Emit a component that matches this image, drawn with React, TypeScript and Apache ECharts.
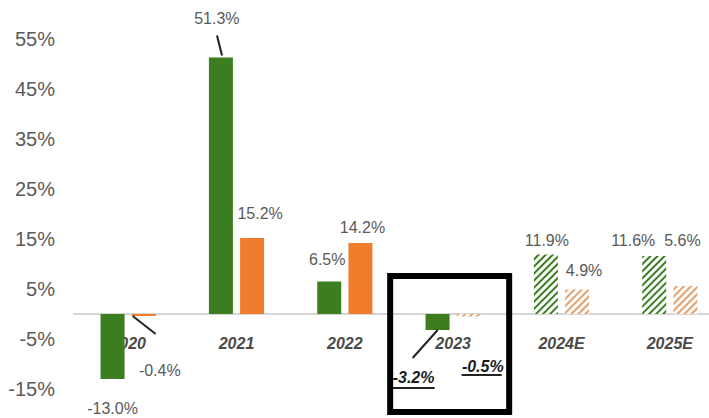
import React, { useEffect, useRef } from "react";
import * as echarts from "echarts";

// ---- data ----
const categories = ["2020", "2021", "2022", "2023", "2024E", "2025E"];
const greenValues = [-13.0, 51.3, 6.5, -3.2, 11.9, 11.6];
const orangeValues = [-0.4, 15.2, 14.2, -0.5, 4.9, 5.6];
const greenHatched = [false, false, false, false, true, true];
const orangeHatched = [false, false, false, true, true, true];
const highlightIndex = 3; // 2023 (boxed, underlined labels)
const Y_MIN = -15;
const Y_MAX = 55;

// ---- styling (label offsets in px) ----
const greenLabelOffsets = [[0, 16], [-4, -26.5], [-2, -9.5], [-24, 34], [1, -1.5], [-21, -3]];
const orangeLabelOffsets = [[16, 41], [8, -12], [2, -3], [14, 36.5], [7, -6.5], [-3, -33]];

const GREEN = "#3b7d1f";
const ORANGE = "#f07d2c";
const GREEN_HATCH = "#3b7d1f";
const ORANGE_HATCH = "#e3a06e";
const FONT = "'Liberation Sans', Arial, sans-serif";
const BAR_W = 24;
const HALF = 15.5;
const GRID_TOP = 39;
const GRID_BOTTOM = 29;
const CHART_H = 418;

function buildData(values: number[], hatched: boolean[], offsets: number[][], color: string, hatchColor: string) {
  return values.map((v, i) => {
    const hl = i === highlightIndex;
    return {
      value: v,
      itemStyle: hatched[i]
        ? {
            color: "#ffffff",
            decal: {
              symbol: "rect",
              symbolSize: 1,
              color: hatchColor,
              dashArrayX: [1, 0],
              dashArrayY: [2, 3],
              rotation: -Math.PI / 4,
            },
          }
        : { color },
      label: {
        show: true,
        position: v >= 0 ? "top" : "bottom",
        distance: 5,
        offset: offsets[i],
        formatter: (p: any) => Number(p.value).toFixed(1) + "%",
        fontFamily: FONT,
        fontSize: 16,
        color: hl ? "#1a1a1a" : "#595959",
        fontWeight: hl ? "bold" : "normal",
        fontStyle: hl ? "italic" : "normal",
      },
    };
  });
}

export default function App() {
  const ref = useRef<HTMLDivElement>(null);
  useEffect(() => {
    if (!ref.current) return;
    const chart = echarts.init(ref.current, null, { renderer: "svg" });
    const plotH = CHART_H - GRID_TOP - GRID_BOTTOM;
    const zeroOffset = -(plotH * (0 - Y_MIN)) / (Y_MAX - Y_MIN);
    chart.setOption({
      animation: false,
      backgroundColor: "#ffffff",
      grid: { left: 74, right: -15, top: GRID_TOP, bottom: GRID_BOTTOM, containLabel: false, outerBoundsMode: "none" },
      xAxis: {
        type: "category",
        data: categories,
        position: "bottom",
        offset: zeroOffset,
        axisLine: { show: true, onZero: false, lineStyle: { color: "#d6d6d6", width: 2 } },
        axisTick: { show: false },
        axisLabel: {
          margin: 21,
          fontFamily: FONT,
          fontSize: 16,
          fontStyle: "italic",
          fontWeight: "bold",
          color: "#4a4a4a",
        },
        splitLine: { show: false },
      },
      yAxis: {
        type: "value",
        min: Y_MIN,
        max: Y_MAX,
        interval: 5,
        axisLine: { show: false },
        axisTick: { show: false },
        splitLine: { show: false },
        axisLabel: {
          margin: 19,
          fontFamily: FONT,
          fontSize: 20,
          color: "#5a5a5a",
          formatter: (v: number) => (Math.round(v) % 10 === 0 ? "" : v + "%"),
        },
      },
      series: [
        {
          type: "bar",
          barWidth: BAR_W,
          barGap: "30%",
          data: buildData(greenValues, greenHatched, greenLabelOffsets, GREEN, GREEN_HATCH),
        },
        {
          type: "bar",
          barWidth: BAR_W,
          data: buildData(orangeValues, orangeHatched, orangeLabelOffsets, ORANGE, ORANGE_HATCH),
        },
      ],
    });

    const px = (i: number, v: number) => chart.convertToPixel({ gridIndex: 0 }, [i, v]) as number[];
    const line = (x1: number, y1: number, x2: number, y2: number, w = 2, color = "#222") => ({
      type: "line",
      silent: true,
      z: 10,
      shape: { x1, y1, x2, y2 },
      style: { stroke: color, lineWidth: w },
    });

    const g2021 = px(1, greenValues[1]);
    const gx2021 = g2021[0] - HALF;
    const o2020 = px(0, 0);
    const ox2020 = o2020[0] + HALF;
    const g2023 = px(highlightIndex, greenValues[highlightIndex]);
    const gx2023 = g2023[0] - HALF;
    const o2023 = px(highlightIndex, orangeValues[highlightIndex]);
    const ox2023 = o2023[0] + HALF;
    const c3 = px(highlightIndex, 0);

    chart.setOption({
      graphic: [
        line(gx2021 + 1, g2021[1] - 2, gx2021 - 4, g2021[1] - 22, 2),
        line(ox2020 - 11, o2020[1] + 2, ox2020 + 12, o2020[1] + 20, 2),
        line(gx2023, g2023[1], gx2023 - 25, g2023[1] + 28, 2),
        line(gx2023 - 45, g2023[1] + 58, gx2023 - 3, g2023[1] + 58, 2),
        line(ox2023 - 7, o2023[1] + 58.5, ox2023 + 33, o2023[1] + 58.5, 2),
        {
          type: "rect",
          silent: true,
          z: 10,
          shape: { x: c3[0] - 63, y: c3[1] - 38, width: 119, height: 136 },
          style: { fill: "none", stroke: "#000", lineWidth: 6 },
        },
      ],
    });

    return () => chart.dispose();
  }, []);
  return <div ref={ref} style={{ width: 709, height: 418, position: "absolute", left: 0, top: 0 }} />;
}
